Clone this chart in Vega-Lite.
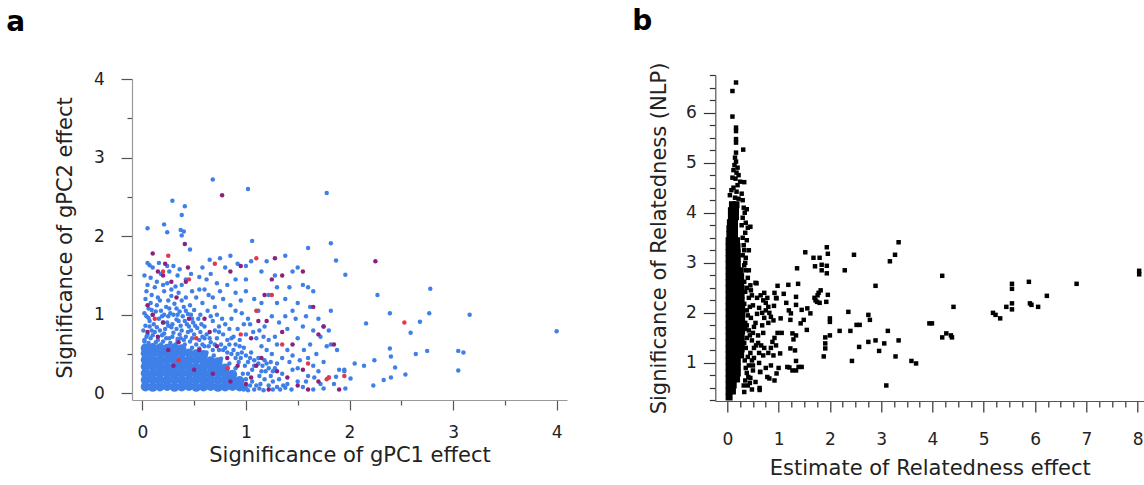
{
  "$schema": "https://vega.github.io/schema/vega-lite/v6.json",
  "background": "white",
  "padding": {"left": 6, "top": 8, "right": 0, "bottom": 0},
  "bounds": "flush",
  "spacing": 148.3,
  "config": {
    "view": {"stroke": null},
    "font": "DejaVu Sans",
    "axis": {"grid": false, "labelFont": "DejaVu Sans", "labelFontSize": 17, "labelColor": "#222", "titleFont": "DejaVu Sans", "titleFontSize": 21, "titleFontWeight": "normal", "titleColor": "#222", "labelOverlap": false, "labelFlush": false, "labelBound": false}
  },
  "datasets": {
    "a_core": [
      {"x":0.03,"y":0.085},{"x":0.10,"y":0.08},{"x":0.17,"y":0.085},{"x":0.24,"y":0.09},{"x":0.31,"y":0.08},{"x":0.38,"y":0.085},{"x":0.45,"y":0.09},{"x":0.52,"y":0.08},{"x":0.59,"y":0.085},{"x":0.66,"y":0.09},{"x":0.73,"y":0.08},{"x":0.80,"y":0.085},{"x":0.87,"y":0.09},{"x":0.94,"y":0.085},
      {"x":0.03,"y":0.17},{"x":0.10,"y":0.175},{"x":0.17,"y":0.165},{"x":0.24,"y":0.17},{"x":0.31,"y":0.175},{"x":0.38,"y":0.17},{"x":0.45,"y":0.165},{"x":0.52,"y":0.17},{"x":0.59,"y":0.175},{"x":0.66,"y":0.17},{"x":0.73,"y":0.165},{"x":0.80,"y":0.17},{"x":0.87,"y":0.175},{"x":0.94,"y":0.16},
      {"x":0.03,"y":0.255},{"x":0.10,"y":0.25},{"x":0.17,"y":0.26},{"x":0.24,"y":0.255},{"x":0.31,"y":0.25},{"x":0.38,"y":0.26},{"x":0.45,"y":0.255},{"x":0.52,"y":0.25},{"x":0.59,"y":0.26},{"x":0.66,"y":0.255},{"x":0.73,"y":0.25},{"x":0.80,"y":0.255},{"x":0.87,"y":0.24},
      {"x":0.03,"y":0.34},{"x":0.10,"y":0.345},{"x":0.17,"y":0.34},{"x":0.24,"y":0.335},{"x":0.31,"y":0.34},{"x":0.38,"y":0.345},{"x":0.45,"y":0.34},{"x":0.52,"y":0.335},{"x":0.59,"y":0.34},{"x":0.66,"y":0.345},{"x":0.73,"y":0.33},{"x":0.80,"y":0.32},
      {"x":0.03,"y":0.425},{"x":0.10,"y":0.43},{"x":0.17,"y":0.42},{"x":0.24,"y":0.425},{"x":0.31,"y":0.43},{"x":0.38,"y":0.425},{"x":0.45,"y":0.42},{"x":0.52,"y":0.43},{"x":0.59,"y":0.425},{"x":0.66,"y":0.41},{"x":0.73,"y":0.40},
      {"x":0.03,"y":0.51},{"x":0.10,"y":0.515},{"x":0.17,"y":0.51},{"x":0.24,"y":0.505},{"x":0.31,"y":0.51},{"x":0.38,"y":0.515},{"x":0.45,"y":0.51},{"x":0.52,"y":0.50},{"x":0.59,"y":0.49},
      {"x":0.03,"y":0.575},{"x":0.10,"y":0.58},{"x":0.17,"y":0.575},{"x":0.24,"y":0.57},{"x":0.31,"y":0.575},{"x":0.38,"y":0.565}
    ],
    "a_pts": [
      {"x":0.68,"y":2.72,"c":"b"},{"x":1.02,"y":2.60,"c":"b"},{"x":1.78,"y":2.55,"c":"b"},{"x":0.29,"y":2.45,"c":"b"},{"x":0.41,"y":2.38,"c":"b"},{"x":0.38,"y":2.27,"c":"b"},{"x":0.05,"y":2.10,"c":"b"},{"x":0.21,"y":2.15,"c":"b"},{"x":0.24,"y":2.05,"c":"b"},{"x":0.37,"y":2.08,"c":"b"},{"x":0.40,"y":2.06,"c":"b"},{"x":0.38,"y":2.01,"c":"b"},{"x":0.46,"y":1.83,"c":"b"},{"x":1.06,"y":1.94,"c":"b"},{"x":1.82,"y":1.91,"c":"b"},{"x":1.60,"y":1.85,"c":"b"},{"x":1.87,"y":1.69,"c":"b"},{"x":1.96,"y":1.51,"c":"b"},{"x":2.78,"y":1.33,"c":"b"},{"x":2.27,"y":1.25,"c":"b"},{"x":2.39,"y":1.02,"c":"b"},{"x":2.77,"y":1.02,"c":"b"},{"x":3.16,"y":1.00,"c":"b"},{"x":4.00,"y":0.79,"c":"b"},{"x":2.16,"y":0.89,"c":"b"},{"x":2.68,"y":0.91,"c":"b"},{"x":2.59,"y":0.77,"c":"b"},{"x":2.39,"y":0.57,"c":"b"},{"x":2.40,"y":0.47,"c":"b"},{"x":2.64,"y":0.50,"c":"b"},{"x":2.75,"y":0.54,"c":"b"},{"x":3.05,"y":0.54,"c":"b"},{"x":3.10,"y":0.52,"c":"b"},{"x":3.05,"y":0.29,"c":"b"},{"x":2.54,"y":0.24,"c":"b"},{"x":2.44,"y":0.33,"c":"b"},{"x":2.24,"y":0.42,"c":"b"},{"x":2.05,"y":0.38,"c":"b"},{"x":2.14,"y":0.35,"c":"b"},{"x":2.23,"y":0.10,"c":"b"},{"x":2.33,"y":0.17,"c":"b"},{"x":2.40,"y":0.20,"c":"b"},{"x":1.95,"y":0.30,"c":"b"},{"x":2.01,"y":0.19,"c":"b"},{"x":1.96,"y":0.06,"c":"b"},{"x":1.87,"y":0.21,"c":"b"},
      {"x":0.02,"y":0.68,"c":"b"},{"x":0.05,"y":0.75,"c":"b"},{"x":0.08,"y":0.70,"c":"b"},{"x":0.12,"y":0.78,"c":"b"},{"x":0.15,"y":0.68,"c":"b"},{"x":0.19,"y":0.74,"c":"b"},{"x":0.22,"y":0.82,"c":"b"},{"x":0.26,"y":0.70,"c":"b"},{"x":0.30,"y":0.77,"c":"b"},{"x":0.34,"y":0.69,"c":"b"},{"x":0.38,"y":0.80,"c":"b"},{"x":0.42,"y":0.72,"c":"b"},{"x":0.46,"y":0.66,"c":"b"},{"x":0.50,"y":0.75,"c":"b"},{"x":0.55,"y":0.68,"c":"b"},{"x":0.58,"y":0.62,"c":"b"},
      {"x":0.03,"y":0.86,"c":"b"},{"x":0.07,"y":0.92,"c":"b"},{"x":0.11,"y":0.88,"c":"b"},{"x":0.16,"y":0.95,"c":"b"},{"x":0.20,"y":0.90,"c":"b"},{"x":0.25,"y":0.98,"c":"b"},{"x":0.29,"y":0.88,"c":"b"},{"x":0.33,"y":0.94,"c":"b"},{"x":0.37,"y":0.86,"c":"b"},{"x":0.41,"y":0.92,"c":"b"},{"x":0.45,"y":0.85,"c":"b"},{"x":0.49,"y":0.90,"c":"b"},{"x":0.53,"y":0.83,"c":"b"},
      {"x":0.02,"y":1.02,"c":"b"},{"x":0.06,"y":1.08,"c":"b"},{"x":0.10,"y":1.00,"c":"b"},{"x":0.14,"y":1.12,"c":"b"},{"x":0.18,"y":1.05,"c":"b"},{"x":0.23,"y":1.10,"c":"b"},{"x":0.27,"y":1.02,"c":"b"},{"x":0.31,"y":1.14,"c":"b"},{"x":0.36,"y":1.04,"c":"b"},{"x":0.40,"y":1.10,"c":"b"},{"x":0.44,"y":1.01,"c":"b"},{"x":0.50,"y":1.06,"c":"b"},
      {"x":0.03,"y":1.20,"c":"b"},{"x":0.09,"y":1.25,"c":"b"},{"x":0.15,"y":1.22,"c":"b"},{"x":0.21,"y":1.30,"c":"b"},{"x":0.28,"y":1.24,"c":"b"},{"x":0.35,"y":1.28,"c":"b"},{"x":0.42,"y":1.22,"c":"b"},{"x":0.05,"y":1.38,"c":"b"},{"x":0.12,"y":1.35,"c":"b"},{"x":0.24,"y":1.40,"c":"b"},{"x":0.32,"y":1.36,"c":"b"},{"x":0.02,"y":1.50,"c":"b"},{"x":0.08,"y":1.47,"c":"b"},{"x":0.18,"y":1.52,"c":"b"},{"x":0.26,"y":1.55,"c":"b"},{"x":0.07,"y":1.63,"c":"b"},{"x":0.05,"y":1.66,"c":"b"},{"x":0.30,"y":1.62,"c":"b"},{"x":0.36,"y":1.58,"c":"b"},{"x":0.42,"y":1.45,"c":"b"},{"x":0.47,"y":1.52,"c":"b"},
      {"x":0.60,"y":0.60,"c":"b"},{"x":0.65,"y":0.70,"c":"b"},{"x":0.70,"y":0.62,"c":"b"},{"x":0.74,"y":0.78,"c":"b"},{"x":0.78,"y":0.55,"c":"b"},{"x":0.82,"y":0.68,"c":"b"},{"x":0.86,"y":0.50,"c":"b"},{"x":0.90,"y":0.62,"c":"b"},{"x":0.95,"y":0.45,"c":"b"},{"x":0.98,"y":0.58,"c":"b"},{"x":1.02,"y":0.40,"c":"b"},{"x":1.05,"y":0.52,"c":"b"},{"x":1.08,"y":0.35,"c":"b"},{"x":1.12,"y":0.45,"c":"b"},{"x":1.15,"y":0.28,"c":"b"},{"x":1.20,"y":0.38,"c":"b"},{"x":1.24,"y":0.22,"c":"b"},{"x":1.28,"y":0.32,"c":"b"},{"x":1.32,"y":0.18,"c":"b"},{"x":1.02,"y":0.25,"c":"b"},{"x":1.06,"y":0.15,"c":"b"},{"x":1.10,"y":0.10,"c":"b"},{"x":1.00,"y":0.08,"c":"b"},{"x":1.14,"y":0.12,"c":"b"},{"x":1.18,"y":0.18,"c":"b"},{"x":1.22,"y":0.10,"c":"b"},{"x":1.30,"y":0.08,"c":"b"},{"x":1.35,"y":0.25,"c":"b"},{"x":1.40,"y":0.12,"c":"b"},{"x":1.45,"y":0.30,"c":"b"},{"x":1.50,"y":0.15,"c":"b"},{"x":1.55,"y":0.08,"c":"b"},{"x":1.60,"y":0.22,"c":"b"},
      {"x":0.60,"y":0.85,"c":"b"},{"x":0.68,"y":0.92,"c":"b"},{"x":0.72,"y":1.00,"c":"b"},{"x":0.80,"y":0.88,"c":"b"},{"x":0.86,"y":0.95,"c":"b"},{"x":0.92,"y":0.82,"c":"b"},{"x":0.96,"y":1.02,"c":"b"},{"x":1.00,"y":0.75,"c":"b"},{"x":1.04,"y":0.88,"c":"b"},{"x":1.10,"y":0.70,"c":"b"},{"x":1.15,"y":0.60,"c":"b"},{"x":1.20,"y":0.55,"c":"b"},{"x":1.25,"y":0.50,"c":"b"},{"x":1.30,"y":0.62,"c":"b"},{"x":1.35,"y":0.45,"c":"b"},{"x":1.40,"y":0.55,"c":"b"},{"x":1.45,"y":0.48,"c":"b"},{"x":1.52,"y":0.42,"c":"b"},{"x":1.56,"y":0.55,"c":"b"},{"x":1.60,"y":0.45,"c":"b"},{"x":1.65,"y":0.35,"c":"b"},{"x":1.70,"y":0.28,"c":"b"},{"x":1.75,"y":0.40,"c":"b"},{"x":1.80,"y":0.20,"c":"b"},{"x":1.85,"y":0.12,"c":"b"},{"x":1.78,"y":0.60,"c":"b"},{"x":1.72,"y":0.72,"c":"b"},{"x":1.65,"y":0.80,"c":"b"},{"x":1.55,"y":0.85,"c":"b"},{"x":1.48,"y":0.95,"c":"b"},{"x":1.40,"y":0.82,"c":"b"},{"x":1.32,"y":0.90,"c":"b"},{"x":1.25,"y":0.98,"c":"b"},{"x":1.18,"y":0.85,"c":"b"},{"x":1.12,"y":1.05,"c":"b"},
      {"x":0.85,"y":1.12,"c":"b"},{"x":0.78,"y":1.20,"c":"b"},{"x":0.70,"y":1.10,"c":"b"},{"x":0.64,"y":1.25,"c":"b"},{"x":0.58,"y":1.15,"c":"b"},{"x":0.55,"y":1.32,"c":"b"},{"x":0.62,"y":1.45,"c":"b"},{"x":0.66,"y":1.52,"c":"b"},{"x":0.72,"y":1.40,"c":"b"},{"x":0.75,"y":1.72,"c":"b"},{"x":0.85,"y":1.75,"c":"b"},{"x":0.92,"y":1.65,"c":"b"},{"x":1.00,"y":1.62,"c":"b"},{"x":1.05,"y":1.68,"c":"b"},{"x":1.20,"y":1.68,"c":"b"},{"x":1.28,"y":1.50,"c":"b"},{"x":1.38,"y":1.75,"c":"b"},{"x":1.45,"y":1.55,"c":"b"},{"x":1.50,"y":1.60,"c":"b"},{"x":1.55,"y":1.38,"c":"b"},{"x":1.60,"y":1.35,"c":"b"},{"x":1.65,"y":1.30,"c":"b"},{"x":1.42,"y":1.35,"c":"b"},{"x":0.82,"y":1.38,"c":"b"},{"x":0.90,"y":1.28,"c":"b"},{"x":1.00,"y":1.30,"c":"b"},{"x":1.08,"y":1.20,"c":"b"},{"x":1.22,"y":1.25,"c":"b"},{"x":1.30,"y":1.15,"c":"b"},{"x":1.50,"y":1.15,"c":"b"},{"x":1.62,"y":1.10,"c":"b"},{"x":1.70,"y":0.95,"c":"b"},{"x":1.75,"y":0.85,"c":"b"},{"x":1.80,"y":0.80,"c":"b"},{"x":1.82,"y":0.62,"c":"b"},{"x":1.88,"y":0.55,"c":"b"},{"x":1.90,"y":0.30,"c":"b"},{"x":1.95,"y":0.28,"c":"b"},{"x":1.82,"y":1.05,"c":"b"},
      {"x":0.02,"y":0.66,"c":"b"},{"x":0.06,"y":0.64,"c":"b"},{"x":0.13,"y":0.65,"c":"b"},{"x":0.20,"y":0.66,"c":"b"},{"x":0.27,"y":0.64,"c":"b"},{"x":0.34,"y":0.66,"c":"b"},{"x":0.41,"y":0.62,"c":"b"},{"x":0.48,"y":0.58,"c":"b"},{"x":0.55,"y":0.57,"c":"b"},{"x":0.62,"y":0.52,"c":"b"},{"x":0.69,"y":0.48,"c":"b"},{"x":0.76,"y":0.44,"c":"b"},{"x":0.84,"y":0.38,"c":"b"},{"x":0.90,"y":0.32,"c":"b"},{"x":0.97,"y":0.25,"c":"b"},{"x":1.00,"y":0.18,"c":"b"},{"x":1.04,"y":0.10,"c":"b"},{"x":1.08,"y":0.05,"c":"b"},{"x":1.13,"y":0.06,"c":"b"},{"x":1.17,"y":0.04,"c":"b"},{"x":0.98,"y":0.05,"c":"b"},{"x":1.02,"y":0.04,"c":"b"},{"x":1.26,"y":0.05,"c":"b"},{"x":1.33,"y":0.05,"c":"b"},{"x":1.38,"y":0.07,"c":"b"},{"x":1.44,"y":0.05,"c":"b"},{"x":0.93,"y":0.40,"c":"b"},{"x":0.99,"y":0.35,"c":"b"},{"x":1.06,"y":0.30,"c":"b"},{"x":1.13,"y":0.22,"c":"b"},{"x":1.19,"y":0.28,"c":"b"},{"x":1.26,"y":0.15,"c":"b"},{"x":1.16,"y":0.35,"c":"b"},{"x":1.24,"y":0.40,"c":"b"},
      {"x":0.04,"y":0.72,"c":"b"},{"x":0.09,"y":0.80,"c":"b"},{"x":0.14,"y":0.84,"c":"b"},{"x":0.18,"y":0.62,"c":"b"},{"x":0.23,"y":0.70,"c":"b"},{"x":0.28,"y":0.84,"c":"b"},{"x":0.32,"y":0.62,"c":"b"},{"x":0.36,"y":0.75,"c":"b"},{"x":0.40,"y":0.68,"c":"b"},{"x":0.44,"y":0.78,"c":"b"},{"x":0.48,"y":0.70,"c":"b"},{"x":0.52,"y":0.62,"c":"b"},{"x":0.56,"y":0.78,"c":"b"},{"x":0.60,"y":0.70,"c":"b"},{"x":0.64,"y":0.60,"c":"b"},{"x":0.68,"y":0.55,"c":"b"},{"x":0.72,"y":0.70,"c":"b"},{"x":0.76,"y":0.62,"c":"b"},{"x":0.80,"y":0.58,"c":"b"},{"x":0.84,"y":0.62,"c":"b"},{"x":0.88,"y":0.55,"c":"b"},{"x":0.92,"y":0.50,"c":"b"},{"x":0.96,"y":0.52,"c":"b"},{"x":1.00,"y":0.48,"c":"b"},{"x":1.04,"y":0.45,"c":"b"},{"x":1.08,"y":0.42,"c":"b"},{"x":1.12,"y":0.38,"c":"b"},{"x":1.18,"y":0.42,"c":"b"},{"x":1.22,"y":0.32,"c":"b"},{"x":1.26,"y":0.28,"c":"b"},{"x":1.30,"y":0.38,"c":"b"},
      {"x":0.06,"y":0.96,"c":"b"},{"x":0.13,"y":1.04,"c":"b"},{"x":0.19,"y":0.98,"c":"b"},{"x":0.24,"y":0.90,"c":"b"},{"x":0.30,"y":1.00,"c":"b"},{"x":0.35,"y":0.92,"c":"b"},{"x":0.39,"y":0.98,"c":"b"},{"x":0.47,"y":1.00,"c":"b"},{"x":0.54,"y":0.95,"c":"b"},{"x":0.57,"y":0.88,"c":"b"},{"x":0.63,"y":1.05,"c":"b"},{"x":0.66,"y":0.98,"c":"b"},{"x":0.74,"y":0.85,"c":"b"},{"x":0.77,"y":0.95,"c":"b"},{"x":0.84,"y":0.82,"c":"b"},{"x":0.88,"y":0.72,"c":"b"},{"x":0.94,"y":0.68,"c":"b"},{"x":0.98,"y":0.88,"c":"b"},{"x":1.02,"y":0.95,"c":"b"},{"x":1.07,"y":0.78,"c":"b"},{"x":1.13,"y":0.80,"c":"b"},{"x":1.17,"y":0.72,"c":"b"},{"x":1.22,"y":0.68,"c":"b"},{"x":1.28,"y":0.72,"c":"b"},
      {"x":0.08,"y":1.15,"c":"b"},{"x":0.17,"y":1.18,"c":"b"},{"x":0.25,"y":1.18,"c":"b"},{"x":0.33,"y":1.08,"c":"b"},{"x":0.38,"y":1.18,"c":"b"},{"x":0.46,"y":1.12,"c":"b"},{"x":0.52,"y":1.22,"c":"b"},{"x":0.60,"y":1.32,"c":"b"},{"x":0.68,"y":1.22,"c":"b"},{"x":0.75,"y":1.30,"c":"b"},{"x":0.90,"y":1.05,"c":"b"},{"x":0.95,"y":1.18,"c":"b"},{"x":1.15,"y":1.15,"c":"b"},{"x":0.04,"y":1.30,"c":"b"},{"x":0.14,"y":1.42,"c":"b"},{"x":0.20,"y":1.38,"c":"b"},{"x":0.28,"y":1.32,"c":"b"},{"x":0.38,"y":1.38,"c":"b"},{"x":0.48,"y":1.30,"c":"b"},{"x":0.10,"y":1.60,"c":"b"},{"x":0.16,"y":1.66,"c":"b"},{"x":0.24,"y":1.62,"c":"b"},{"x":0.34,"y":1.50,"c":"b"},{"x":0.55,"y":1.48,"c":"b"},{"x":0.58,"y":1.60,"c":"b"},{"x":0.65,"y":1.70,"c":"b"},{"x":0.80,"y":1.60,"c":"b"},{"x":0.90,"y":1.45,"c":"b"},{"x":1.00,"y":1.45,"c":"b"},{"x":1.15,"y":1.55,"c":"b"},{"x":1.30,"y":1.35,"c":"b"},{"x":1.38,"y":1.20,"c":"b"},{"x":1.45,"y":1.05,"c":"b"},{"x":1.58,"y":0.98,"c":"b"},{"x":1.38,"y":0.98,"c":"b"},{"x":1.50,"y":0.70,"c":"b"},{"x":1.62,"y":0.62,"c":"b"},{"x":1.68,"y":0.50,"c":"b"},{"x":1.72,"y":0.12,"c":"b"},{"x":1.66,"y":0.20,"c":"b"},{"x":1.75,"y":0.06,"c":"b"},{"x":1.50,"y":0.32,"c":"b"},{"x":1.42,"y":0.40,"c":"b"},{"x":1.36,"y":0.10,"c":"b"},{"x":1.58,"y":0.15,"c":"b"},{"x":1.65,"y":0.05,"c":"b"},
      {"x":0.01,"y":0.80,"c":"b"},{"x":0.07,"y":0.85,"c":"b"},{"x":0.10,"y":0.74,"c":"b"},{"x":0.17,"y":0.80,"c":"b"},{"x":0.21,"y":0.76,"c":"b"},{"x":0.25,"y":0.86,"c":"b"},{"x":0.29,"y":0.72,"c":"b"},{"x":0.33,"y":0.82,"c":"b"},{"x":0.37,"y":0.70,"c":"b"},{"x":0.43,"y":0.88,"c":"b"},{"x":0.47,"y":0.80,"c":"b"},{"x":0.51,"y":0.86,"c":"b"},{"x":0.04,"y":0.98,"c":"b"},{"x":0.09,"y":1.06,"c":"b"},{"x":0.21,"y":1.00,"c":"b"},{"x":0.26,"y":1.08,"c":"b"},{"x":0.34,"y":1.00,"c":"b"},{"x":0.42,"y":1.05,"c":"b"},{"x":0.48,"y":0.95,"c":"b"},{"x":0.56,"y":1.00,"c":"b"},{"x":0.62,"y":0.75,"c":"b"},{"x":0.70,"y":0.80,"c":"b"},{"x":0.78,"y":0.75,"c":"b"},{"x":0.86,"y":0.70,"c":"b"},{"x":0.94,"y":0.60,"c":"b"},{"x":0.58,"y":0.72,"c":"b"},{"x":0.66,"y":0.65,"c":"b"},{"x":0.74,"y":0.55,"c":"b"},{"x":0.82,"y":0.52,"c":"b"},{"x":0.90,"y":0.45,"c":"b"},
      {"x":0.77,"y":2.52,"c":"p"},{"x":0.41,"y":1.90,"c":"p"},{"x":0.10,"y":1.78,"c":"p"},{"x":0.22,"y":1.65,"c":"p"},{"x":0.15,"y":1.55,"c":"p"},{"x":0.20,"y":1.50,"c":"p"},{"x":0.28,"y":1.42,"c":"p"},{"x":0.42,"y":1.42,"c":"p"},{"x":0.33,"y":1.22,"c":"p"},{"x":0.44,"y":1.60,"c":"p"},{"x":0.85,"y":1.55,"c":"p"},{"x":0.95,"y":1.62,"c":"p"},{"x":1.28,"y":1.72,"c":"p"},{"x":1.35,"y":1.50,"c":"p"},{"x":1.25,"y":1.45,"c":"p"},{"x":1.18,"y":1.25,"c":"p"},{"x":1.12,"y":0.92,"c":"p"},{"x":1.20,"y":0.92,"c":"p"},{"x":1.55,"y":1.55,"c":"p"},{"x":1.65,"y":1.10,"c":"p"},{"x":1.70,"y":0.75,"c":"p"},{"x":1.75,"y":0.85,"c":"p"},{"x":1.85,"y":0.62,"c":"p"},{"x":2.25,"y":1.68,"c":"p"},{"x":0.05,"y":1.12,"c":"p"},{"x":0.10,"y":1.00,"c":"p"},{"x":0.05,"y":0.78,"c":"p"},{"x":0.15,"y":0.72,"c":"p"},{"x":0.20,"y":0.90,"c":"p"},{"x":0.35,"y":0.65,"c":"p"},{"x":0.45,"y":0.95,"c":"p"},{"x":0.60,"y":0.95,"c":"p"},{"x":0.65,"y":0.78,"c":"p"},{"x":0.55,"y":0.55,"c":"p"},{"x":0.72,"y":0.60,"c":"p"},{"x":0.82,"y":0.45,"c":"p"},{"x":0.92,"y":0.35,"c":"p"},{"x":1.05,"y":0.20,"c":"p"},{"x":1.10,"y":0.35,"c":"p"},{"x":1.30,"y":0.28,"c":"p"},{"x":1.40,"y":0.20,"c":"p"},{"x":1.50,"y":0.10,"c":"p"},{"x":1.60,"y":0.05,"c":"p"},{"x":1.70,"y":0.15,"c":"p"},{"x":1.90,"y":0.05,"c":"p"},{"x":1.45,"y":0.62,"c":"p"},{"x":1.35,"y":0.78,"c":"p"},{"x":1.05,"y":0.70,"c":"p"},{"x":0.30,"y":0.35,"c":"p"},{"x":0.50,"y":0.30,"c":"p"},{"x":0.25,"y":0.55,"c":"p"},{"x":0.68,"y":0.25,"c":"p"},{"x":1.00,"y":0.12,"c":"p"},{"x":1.22,"y":0.05,"c":"p"},{"x":0.85,"y":0.15,"c":"p"},{"x":1.15,"y":0.45,"c":"p"},{"x":1.55,"y":0.30,"c":"p"},
      {"x":0.25,"y":1.75,"c":"r"},{"x":0.20,"y":1.55,"c":"r"},{"x":0.45,"y":1.45,"c":"r"},{"x":0.70,"y":1.65,"c":"r"},{"x":1.10,"y":1.72,"c":"r"},{"x":1.10,"y":1.05,"c":"r"},{"x":1.25,"y":1.25,"c":"r"},{"x":1.78,"y":0.18,"c":"r"},{"x":1.80,"y":0.20,"c":"r"},{"x":1.95,"y":0.22,"c":"r"},{"x":2.53,"y":0.90,"c":"r"},{"x":0.52,"y":0.70,"c":"r"},{"x":0.95,"y":0.75,"c":"r"},{"x":0.12,"y":0.95,"c":"r"},{"x":1.60,"y":0.38,"c":"r"},{"x":0.82,"y":0.32,"c":"r"},{"x":0.35,"y":0.42,"c":"r"},{"x":1.35,"y":0.62,"c":"r"}
    ],
    "b_core": [
      {"x":0.035,"y":0.32},
      {"x":0.035,"y":0.44},{"x":0.10,"y":0.44},
      {"x":0.035,"y":0.56},{"x":0.115,"y":0.56},
      {"x":0.035,"y":0.68},{"x":0.115,"y":0.68},{"x":0.18,"y":0.68},
      {"x":0.035,"y":0.80},{"x":0.115,"y":0.80},{"x":0.195,"y":0.80},
      {"x":0.035,"y":0.92},{"x":0.115,"y":0.92},{"x":0.195,"y":0.92},
      {"x":0.035,"y":1.04},{"x":0.115,"y":1.04},{"x":0.195,"y":1.04},
      {"x":0.035,"y":1.16},{"x":0.115,"y":1.16},{"x":0.195,"y":1.16},{"x":0.26,"y":1.16},
      {"x":0.035,"y":1.28},{"x":0.115,"y":1.28},{"x":0.195,"y":1.28},{"x":0.27,"y":1.28},
      {"x":0.035,"y":1.40},{"x":0.115,"y":1.40},{"x":0.195,"y":1.40},{"x":0.27,"y":1.40},
      {"x":0.035,"y":1.52},{"x":0.115,"y":1.52},{"x":0.195,"y":1.52},{"x":0.27,"y":1.52},
      {"x":0.035,"y":1.64},{"x":0.115,"y":1.64},{"x":0.195,"y":1.64},{"x":0.28,"y":1.64},
      {"x":0.035,"y":1.76},{"x":0.115,"y":1.76},{"x":0.195,"y":1.76},{"x":0.28,"y":1.76},
      {"x":0.035,"y":1.88},{"x":0.115,"y":1.88},{"x":0.195,"y":1.88},{"x":0.28,"y":1.88},
      {"x":0.035,"y":2.00},{"x":0.115,"y":2.00},{"x":0.195,"y":2.00},{"x":0.28,"y":2.00},
      {"x":0.035,"y":2.12},{"x":0.115,"y":2.12},{"x":0.195,"y":2.12},{"x":0.28,"y":2.12},
      {"x":0.035,"y":2.24},{"x":0.115,"y":2.24},{"x":0.195,"y":2.24},{"x":0.27,"y":2.24},
      {"x":0.035,"y":2.36},{"x":0.115,"y":2.36},{"x":0.195,"y":2.36},{"x":0.27,"y":2.36},
      {"x":0.035,"y":2.48},{"x":0.115,"y":2.48},{"x":0.195,"y":2.48},{"x":0.27,"y":2.48},
      {"x":0.035,"y":2.60},{"x":0.115,"y":2.60},{"x":0.195,"y":2.60},{"x":0.26,"y":2.60},
      {"x":0.035,"y":2.72},{"x":0.115,"y":2.72},{"x":0.195,"y":2.72},{"x":0.26,"y":2.72},
      {"x":0.035,"y":2.84},{"x":0.115,"y":2.84},{"x":0.195,"y":2.84},{"x":0.25,"y":2.84},
      {"x":0.035,"y":2.96},{"x":0.115,"y":2.96},{"x":0.195,"y":2.96},
      {"x":0.035,"y":3.08},{"x":0.115,"y":3.08},{"x":0.195,"y":3.08},
      {"x":0.035,"y":3.20},{"x":0.115,"y":3.20},{"x":0.195,"y":3.20},
      {"x":0.035,"y":3.32},{"x":0.115,"y":3.32},{"x":0.19,"y":3.32},
      {"x":0.035,"y":3.44},{"x":0.115,"y":3.44},{"x":0.18,"y":3.44},
      {"x":0.05,"y":3.56},{"x":0.14,"y":3.56},
      {"x":0.05,"y":3.68},{"x":0.14,"y":3.68},
      {"x":0.06,"y":3.80},{"x":0.14,"y":3.80},
      {"x":0.08,"y":3.92},{"x":0.16,"y":3.92},
      {"x":0.08,"y":4.04},{"x":0.16,"y":4.04},
      {"x":0.10,"y":4.16},{"x":0.17,"y":4.16}
    ],
    "b_pts": [
      {"x":0.17,"y":6.60},{"x":0.10,"y":6.43},{"x":0.10,"y":5.92},{"x":0.17,"y":5.70},{"x":0.17,"y":5.63},{"x":0.17,"y":5.47},{"x":0.17,"y":5.40},{"x":0.31,"y":5.26},{"x":0.17,"y":5.20},{"x":0.15,"y":5.10},{"x":0.17,"y":5.02},{"x":0.14,"y":4.95},{"x":0.20,"y":4.90},{"x":0.12,"y":4.85},{"x":0.18,"y":4.80},{"x":0.22,"y":4.75},{"x":0.10,"y":4.70},{"x":0.16,"y":4.68},{"x":0.25,"y":4.62},{"x":0.33,"y":4.61},{"x":0.20,"y":4.55},{"x":0.12,"y":4.50},{"x":0.08,"y":4.45},{"x":0.18,"y":4.42},{"x":0.28,"y":4.38},{"x":0.05,"y":4.35},{"x":0.15,"y":4.30},{"x":0.22,"y":4.28},{"x":0.30,"y":4.25},{"x":0.38,"y":4.07},{"x":0.34,"y":4.00},{"x":0.30,"y":3.90},{"x":0.40,"y":3.70},{"x":0.35,"y":3.60},{"x":0.45,"y":3.72},{"x":0.28,"y":3.75},{"x":0.32,"y":3.35},{"x":0.38,"y":3.45},{"x":0.42,"y":3.25},{"x":0.36,"y":3.10},{"x":0.30,"y":3.15},
      {"x":0.33,"y":0.42},{"x":0.48,"y":0.47},{"x":0.63,"y":0.50},{"x":0.63,"y":0.46},{"x":0.40,"y":0.55},{"x":0.35,"y":0.65},{"x":0.45,"y":0.70},{"x":0.55,"y":0.62},{"x":0.38,"y":0.80},{"x":0.50,"y":0.85},{"x":0.62,"y":1.00},{"x":0.64,"y":0.82},{"x":0.42,"y":0.95},{"x":0.34,"y":1.05},{"x":0.52,"y":1.10},{"x":0.45,"y":1.20},{"x":0.36,"y":1.30},{"x":0.56,"y":1.35},{"x":0.48,"y":1.45},{"x":0.38,"y":1.50},{"x":0.60,"y":1.55},{"x":0.42,"y":1.65},{"x":0.52,"y":1.72},{"x":0.35,"y":1.80},{"x":0.46,"y":1.90},{"x":0.58,"y":1.98},{"x":0.38,"y":2.05},{"x":0.50,"y":2.15},{"x":0.42,"y":2.30},{"x":0.35,"y":2.42},{"x":0.55,"y":2.60},{"x":0.40,"y":2.70},{"x":0.45,"y":2.55},{"x":0.36,"y":2.85},{"x":0.33,"y":2.95},{"x":0.62,"y":1.20},{"x":0.66,"y":1.35},{"x":0.70,"y":1.60},{"x":0.68,"y":1.75},{"x":0.72,"y":1.30},{"x":0.70,"y":1.15},
      {"x":0.32,"y":0.55},{"x":0.36,"y":0.90},{"x":0.40,"y":1.12},{"x":0.33,"y":1.40},{"x":0.44,"y":1.55},{"x":0.35,"y":1.68},{"x":0.40,"y":1.95},{"x":0.33,"y":2.18},{"x":0.44,"y":2.12},{"x":0.38,"y":2.50},{"x":0.48,"y":2.35},{"x":0.33,"y":2.62},{"x":0.42,"y":2.85},{"x":0.35,"y":3.00},{"x":0.48,"y":1.05},{"x":0.52,"y":1.30},{"x":0.44,"y":0.60},{"x":0.50,"y":0.95},{"x":0.55,"y":1.80},{"x":0.58,"y":2.30},{"x":0.62,"y":2.10},{"x":0.60,"y":1.40},{"x":0.33,"y":3.25},{"x":0.30,"y":3.50},{"x":0.36,"y":3.80},{"x":0.32,"y":4.10},{"x":0.38,"y":1.75},{"x":0.46,"y":2.45},{"x":0.50,"y":1.60},{"x":0.41,"y":0.72},
      {"x":0.57,"y":2.59},{"x":0.65,"y":2.35},{"x":0.70,"y":2.25},{"x":0.72,"y":2.40},{"x":0.75,"y":2.20},{"x":0.78,"y":2.30},{"x":0.80,"y":2.12},{"x":0.75,"y":2.05},{"x":0.82,"y":2.00},{"x":0.68,"y":2.00},{"x":0.72,"y":1.90},{"x":0.85,"y":1.92},{"x":0.80,"y":1.80},{"x":0.90,"y":1.85},{"x":0.95,"y":2.30},{"x":0.92,"y":2.40},{"x":0.96,"y":2.29},{"x":0.91,"y":2.14},{"x":0.98,"y":2.54},{"x":1.04,"y":1.89},{"x":0.98,"y":1.60},{"x":0.92,"y":1.50},{"x":0.88,"y":1.42},{"x":0.85,"y":1.30},{"x":0.95,"y":1.35},{"x":0.80,"y":1.20},{"x":0.90,"y":1.15},{"x":1.03,"y":1.19},{"x":1.06,"y":1.60},{"x":0.96,"y":0.79},{"x":0.92,"y":0.65},{"x":0.78,"y":0.72},{"x":0.82,"y":0.69},{"x":0.64,"y":0.82},{"x":0.75,"y":0.90},{"x":0.85,"y":0.95},{"x":1.00,"y":0.90},{"x":1.19,"y":2.56},{"x":1.10,"y":2.38},{"x":1.15,"y":2.20},{"x":1.20,"y":2.05},
      {"x":1.36,"y":2.89},{"x":1.38,"y":2.58},{"x":1.34,"y":2.32},{"x":1.34,"y":2.16},{"x":1.45,"y":2.06},{"x":1.24,"y":1.99},{"x":1.23,"y":1.86},{"x":1.27,"y":1.59},{"x":1.34,"y":1.55},{"x":1.29,"y":1.47},{"x":1.23,"y":1.29},{"x":1.32,"y":1.25},{"x":1.34,"y":1.04},{"x":1.39,"y":0.92},{"x":1.45,"y":0.92},{"x":1.27,"y":0.85},{"x":1.34,"y":0.85},{"x":1.17,"y":0.92},{"x":1.21,"y":0.91},{"x":1.49,"y":1.86},{"x":1.43,"y":1.79},{"x":1.56,"y":2.09},{"x":1.62,"y":1.99},{"x":1.55,"y":1.66},{"x":1.52,"y":3.21},{"x":1.68,"y":3.10},{"x":1.80,"y":3.10},{"x":1.94,"y":3.31},{"x":1.96,"y":3.18},{"x":1.84,"y":2.96},{"x":1.94,"y":2.94},{"x":1.84,"y":2.85},{"x":1.94,"y":2.79},{"x":1.71,"y":2.93},{"x":1.70,"y":2.30},{"x":1.72,"y":2.25},{"x":1.75,"y":2.22},{"x":1.78,"y":2.40},{"x":1.76,"y":2.35},{"x":1.82,"y":2.45},{"x":1.80,"y":2.20},{"x":1.93,"y":2.22},{"x":1.96,"y":2.36},{"x":2.00,"y":1.89},{"x":2.00,"y":1.82},{"x":2.00,"y":1.55},{"x":1.91,"y":1.51},{"x":1.91,"y":1.39},{"x":1.91,"y":1.29},{"x":1.88,"y":1.13},{"x":2.19,"y":1.64},{"x":2.29,"y":2.85},{"x":2.36,"y":2.02},{"x":2.40,"y":1.64},{"x":2.43,"y":1.04},{"x":2.47,"y":3.16},{"x":2.52,"y":1.76},{"x":2.58,"y":1.76},{"x":2.57,"y":1.32},{"x":2.75,"y":1.96},{"x":2.78,"y":1.86},{"x":2.75,"y":1.42},{"x":2.89,"y":2.54},{"x":2.89,"y":1.45},{"x":2.96,"y":1.24},{"x":3.06,"y":1.39},{"x":3.10,"y":0.55},{"x":3.13,"y":1.64},{"x":3.17,"y":3.03},{"x":3.27,"y":3.16},{"x":3.34,"y":3.41},{"x":3.34,"y":1.45},{"x":3.28,"y":1.13},{"x":3.59,"y":1.04},{"x":3.68,"y":0.99},{"x":3.94,"y":1.79},{"x":3.99,"y":1.79},{"x":4.19,"y":2.74},{"x":4.19,"y":1.51},{"x":4.27,"y":1.59},{"x":4.36,"y":1.55},{"x":4.38,"y":1.51},{"x":4.41,"y":2.12},{"x":5.18,"y":2.00},{"x":5.23,"y":1.96},{"x":5.32,"y":1.89},{"x":5.44,"y":2.12},{"x":5.55,"y":2.19},{"x":5.55,"y":2.07},{"x":5.55,"y":2.58},{"x":5.55,"y":2.48},{"x":5.90,"y":2.19},{"x":5.93,"y":2.16},{"x":5.88,"y":2.62},{"x":6.06,"y":2.12},{"x":6.23,"y":2.34},{"x":6.81,"y":2.58},{"x":8.03,"y":2.84},{"x":8.03,"y":2.77}
    ]
  },
  "hconcat": [
    {
      "width": 435,
      "height": 325,
      "title": {"text": "a", "anchor": "start", "frame": "group", "dx": -125.7, "offset": 11.5, "fontSize": 28, "fontWeight": "bold", "font": "DejaVu Sans", "color": "#000", "baseline": "alphabetic"},
      "encoding": {
        "x": {"field": "x", "type": "quantitative", "scale": {"domain": [-0.1, 4.1], "nice": false, "zero": false},
          "axis": {"title": "Significance of gPC1 effect", "values": [0, 0.5, 1, 1.5, 2, 2.5, 3, 3.5, 4], "labelExpr": "datum.value % 1 === 0 ? format(datum.value, 'd') : ''",
            "tickSize": {"condition": {"test": "datum.value % 1 === 0", "value": 10}, "value": 5},
            "labelPadding": 14, "domainColor": "#999", "domainWidth": 1.2, "tickColor": "#555", "tickWidth": 1.2,
            "titleY": 61.5, "titleBaseline": "alphabetic"}},
        "y": {"field": "y", "type": "quantitative", "scale": {"domain": [-0.085, 4.051], "nice": false, "zero": false},
          "axis": {"title": "Significance of gPC2 effect", "values": [0, 0.5, 1, 1.5, 2, 2.5, 3, 3.5, 4], "labelExpr": "datum.value % 1 === 0 ? format(datum.value, 'd') : ''",
            "tickSize": {"condition": {"test": "datum.value % 1 === 0", "value": 11}, "value": 5},
            "labelPadding": 16.7, "domainColor": "#999", "domainWidth": 1.2, "domainDash": [321, 20], "tickColor": "#555", "tickWidth": 1.2,
            "titleX": -61, "titleBaseline": "alphabetic", "titleAngle": -90}}
      },
      "layer": [
        {"data": {"name": "a_core"}, "mark": {"type": "circle", "size": 90, "opacity": 1, "color": "#3f7fe8"}},
        {"data": {"name": "a_pts"}, "mark": {"type": "circle", "size": 20, "opacity": 1},
          "encoding": {"color": {"field": "c", "type": "nominal", "scale": {"domain": ["b", "p", "r"], "range": ["#3f7fe8", "#8c1f7f", "#e2374f"]}, "legend": null}}}
      ]
    },
    {
      "width": 429,
      "height": 326,
      "title": {"text": "b", "anchor": "start", "frame": "group", "dx": -83, "offset": 4, "fontSize": 28, "fontWeight": "bold", "font": "DejaVu Sans", "color": "#000", "baseline": "alphabetic"},
      "encoding": {
        "x": {"field": "x", "type": "quantitative", "scale": {"domain": [-0.234, 8.13], "nice": false, "zero": false},
          "axis": {"title": "Estimate of Relatedness effect", "values": [0, 0.25, 0.5, 0.75, 1, 1.25, 1.5, 1.75, 2, 2.25, 2.5, 2.75, 3, 3.25, 3.5, 3.75, 4, 4.25, 4.5, 4.75, 5, 5.25, 5.5, 5.75, 6, 6.25, 6.5, 6.75, 7, 7.25, 7.5, 7.75, 8], "labelExpr": "datum.value % 1 === 0 ? format(datum.value, 'd') : ''",
            "tickSize": {"condition": {"test": "datum.value % 1 === 0", "value": 11}, "value": 6},
            "labelPadding": 19, "domainColor": "#555", "domainWidth": 1.2, "tickColor": "#333", "tickWidth": 1.2,
            "titleY": 73, "titleBaseline": "alphabetic"}},
        "y": {"field": "y", "type": "quantitative", "scale": {"domain": [0.24, 6.75], "nice": false, "zero": false},
          "axis": {"title": "Significance of Relatedness (NLP)", "values": [0.25, 0.5, 0.75, 1, 1.25, 1.5, 1.75, 2, 2.25, 2.5, 2.75, 3, 3.25, 3.5, 3.75, 4, 4.25, 4.5, 4.75, 5, 5.25, 5.5, 5.75, 6, 6.25, 6.5, 6.75], "labelExpr": "datum.value % 1 === 0 ? format(datum.value, 'd') : ''",
            "tickSize": {"condition": {"test": "datum.value % 1 === 0", "value": 12}, "value": 6},
            "labelPadding": 7, "domainColor": "#555", "domainWidth": 1.2, "tickColor": "#333", "tickWidth": 1.2,
            "titleX": -50, "titleBaseline": "alphabetic", "titleAngle": -90}}
      },
      "layer": [
        {"data": {"name": "b_core"}, "mark": {"type": "square", "size": 49, "opacity": 1, "color": "#000"}},
        {"data": {"name": "b_pts"}, "mark": {"type": "square", "size": 20, "opacity": 1, "color": "#000"}}
      ]
    }
  ]
}
